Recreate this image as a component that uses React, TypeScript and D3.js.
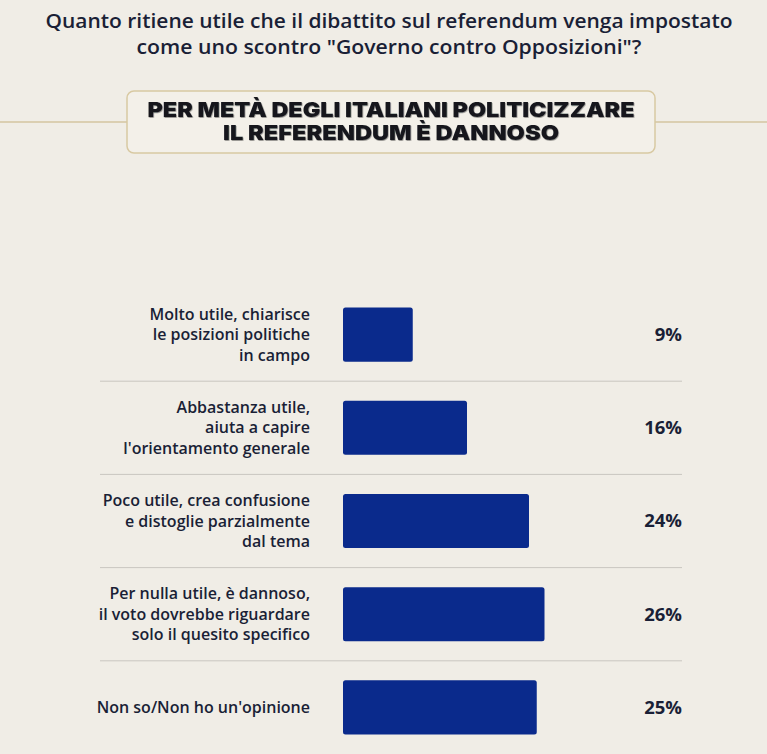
import React from "react";
import * as d3 from "d3";

const categories: string[][] = [
  ["Molto utile, chiarisce", "le posizioni politiche", "in campo"],
  ["Abbastanza utile,", "aiuta a capire", "l'orientamento generale"],
  ["Poco utile, crea confusione", "e distoglie parzialmente", "dal tema"],
  ["Per nulla utile, è dannoso,", "il voto dovrebbe riguardare", "solo il quesito specifico"],
  ["Non so/Non ho un'opinione"],
];
const values: number[] = [9, 16, 24, 26, 25];
const titleLines: string[] = [
  "Quanto ritiene utile che il dibattito sul referendum venga impostato",
  "come uno scontro \"Governo contro Opposizioni\"?",
];
const badgeLines: string[] = ["PER METÀ DEGLI ITALIANI POLITICIZZARE", "IL REFERENDUM È DANNOSO"];

const W = 767;
const H = 754;
const BG = "#f0ede6";
const NAVY = "#1a1f36";
const BAR = "#0a2a8c";

export default function App() {
  const x = d3.scaleLinear().domain([0, 10]).range([343, 420.5]);
  const y = d3
    .scaleBand<number>()
    .domain(d3.range(values.length))
    .range([288, 754])
    .paddingInner(0.42)
    .paddingOuter(0.21);
  const step = y.step();
  const font = "'Open Sans', 'Noto Sans', sans-serif";
  return (
    <div style={{ position: "fixed", left: 0, top: 0, width: W, height: H, background: BG }}>
      <svg width={W} height={H} style={{ display: "block" }}>
        <rect width={W} height={H} fill={BG} />
        {titleLines.map((t, i) => (
          <text
            key={i}
            x={389}
            y={28 + i * 26}
            textAnchor="middle"
            fontFamily={font}
            fontSize={20}
            fontWeight={600}
            fill={NAVY}
            textLength={i === 0 ? 687 : 505}
            lengthAdjust="spacingAndGlyphs"
          >
            {t}
          </text>
        ))}
        <line x1={0} x2={W} y1={122} y2={122} stroke="#d5c5a0" strokeWidth={1.5} />
        <rect x={127} y={91} width={528} height={62} rx={7} fill="#f3f0e9" stroke="#d8c9a2" strokeWidth={1.5} />
        <defs>
          <filter id="sh" x="-5%" y="-20%" width="110%" height="140%">
            <feDropShadow dx={0.6} dy={0.8} stdDeviation={0.6} floodColor="#000" floodOpacity={0.45} />
          </filter>
        </defs>
        {badgeLines.map((t, i) => (
          <text
            key={i}
            x={391}
            y={117 + i * 23}
            textAnchor="middle"
            fontFamily="Inter, 'DejaVu Sans', sans-serif"
            fontSize={20.5}
            fontWeight={900}
            fill="#16181f"
            filter="url(#sh)"
            textLength={i === 0 ? 487 : 336}
            lengthAdjust="spacingAndGlyphs"
          >
            {t}
          </text>
        ))}
        {values.map((v, i) => {
          const y0 = y(i)!;
          const cy = y0 + y.bandwidth() / 2;
          const lines = categories[i];
          const lh = 20.5;
          return (
            <g key={i}>
              <rect x={x(0)} y={y0} width={x(v) - x(0)} height={y.bandwidth()} rx={2.5} fill={BAR} />
              {lines.map((l, j) => (
                <text
                  key={j}
                  x={310}
                  y={cy + (j - (lines.length - 1) / 2) * lh}
                  dy="0.35em"
                  textAnchor="end"
                  fontFamily={font}
                  fontSize={16}
                  fontWeight={600}
                  fill={NAVY}
                >
                  {l}
                </text>
              ))}
              <text
                x={682}
                y={cy}
                dy="0.35em"
                textAnchor="end"
                fontFamily={font}
                fontSize={18.5}
                fontWeight={700}
                fill={NAVY}
              >
                {v}%
              </text>
              {i < values.length - 1 && (
                <line
                  x1={100}
                  x2={682}
                  y1={y0 + y.bandwidth() + (step - y.bandwidth()) / 2}
                  y2={y0 + y.bandwidth() + (step - y.bandwidth()) / 2}
                  stroke="#c9c6c0"
                  strokeWidth={1}
                />
              )}
            </g>
          );
        })}
      </svg>
    </div>
  );
}
